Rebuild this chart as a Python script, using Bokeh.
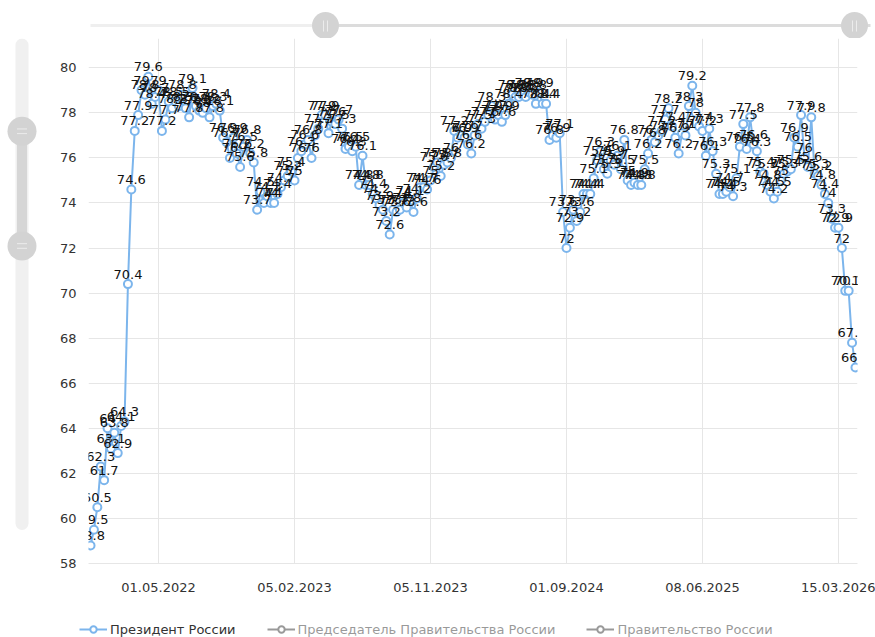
from bokeh.plotting import figure
from bokeh.models import ColumnDataSource, Range1d, FixedTicker, Legend, LegendItem
from bokeh.layouts import column, row
from bokeh.core.properties import value
from bokeh.embed import file_html
from bokeh.resources import INLINE

# ---------------- data (weekly poll points) ----------------
president = [
    58.8, 59.5, 60.5, 62.3, 61.7, 64.0, 63.1, 63.8, 62.9, 64.1, 64.3, 70.4, 74.6,
    77.2, 77.9, 79.0, 78.8, 79.6, 78.4, 78.7, 79.0,
    77.2, 77.7, 78.5, 78.2, 78.5, 78.3, 78.8, 78.2, 77.8, 79.1,
    78.3, 78.1, 78.0, 78.2, 77.8, 78.3, 78.4, 78.1, 76.9, 76.7,
    76.0, 76.9, 76.2, 75.6, 76.5, 76.8, 76.2, 75.8, 73.7, 74.5,
    74.0, 74.3, 74.0, 74.0, 74.4, 74.7, 75.0, 75.2, 75.4, 75.0,
    76.0, 76.3, 76.6, 76.8, 76.0, 77.0, 77.3, 77.9, 77.9, 77.1,
    77.6, 77.5, 77.7, 77.3, 76.4, 76.5, 76.3, 76.5, 74.8, 76.1,
    74.8, 74.8, 74.4, 74.2, 73.9, 73.7, 73.2, 72.6, 73.7, 73.6,
    73.7, 74.0, 73.8, 74.1, 73.6, 74.2, 74.7, 74.7, 74.6, 75.0,
    75.6, 75.8, 75.2, 75.7, 75.8, 76.0, 77.2, 76.9, 77.0, 76.9,
    76.6, 76.2, 77.0, 77.5, 77.3, 77.6, 77.9, 78.3, 77.7, 77.9,
    77.6, 77.9, 78.4, 78.8, 78.7, 78.7, 78.8, 78.7, 78.9, 78.8,
    78.4, 78.9, 78.4, 78.4, 76.8, 77.0, 76.9, 77.1, 73.6, 72.0,
    72.9, 73.7, 73.2, 73.6, 74.4, 74.4, 74.4, 75.1, 75.9, 76.3,
    75.5, 75.3, 75.9, 75.7, 76.1, 75.5, 76.8, 75.0, 74.8, 74.9,
    74.8, 74.8, 75.5, 76.2, 76.8, 76.7, 77.0, 77.2, 77.7, 78.2,
    77.4, 76.9, 76.2, 77.1, 77.0, 78.3, 79.2, 78.0, 77.4, 77.2,
    76.1, 77.3, 76.3, 75.3, 74.4, 74.4, 74.5, 74.7, 74.3, 75.1,
    76.5, 77.5, 76.4, 77.8, 76.6, 76.3, 75.4, 75.3, 74.8, 74.5,
    74.2, 74.5, 75.0, 75.3, 75.4, 75.5, 76.9, 76.5, 77.9, 76.0,
    75.6, 77.8, 75.3, 75.2, 74.8, 74.4, 74.0, 73.3, 72.9, 72.9,
    72.0, 70.1, 70.1, 67.8, 66.7,
]
premier = []      # hidden series (switched off in the legend)
government = []   # hidden series (switched off in the legend)

series_names = ["Президент России", "Председатель Правительства России", "Правительство России"]
tick_idx = [20, 60, 100, 140, 180, 220]
tick_labels = ["01.05.2022", "05.02.2023", "05.11.2023", "01.09.2024", "08.06.2025", "15.03.2026"]
y_ticks = list(range(58, 81, 2))

FONT = "DejaVu Sans"
BLUE = "#7cb5ec"
GRID = "#e6e6e6"
HIDDEN = "#333333"

# ---------------- main chart ----------------
n = len(president)
src = ColumnDataSource(dict(x=list(range(n)), y=president,
                            label=[f"{v:g}" for v in president]))

p = figure(width=827, height=563,
           x_range=Range1d(-0.6, n - 1 + 0.6), y_range=Range1d(58, 81.3),
           output_backend="svg", toolbar_location=None,
           min_border_left=40, min_border_right=18, min_border_top=0, min_border_bottom=38)
p.outline_line_color = None
p.background_fill_color = "white"

p.xaxis.ticker = FixedTicker(ticks=tick_idx)
p.xaxis.major_label_overrides = dict(zip(tick_idx, tick_labels))
p.xaxis.major_tick_line_color = None
p.xaxis.minor_tick_line_color = None
p.xaxis.axis_line_color = GRID
p.xaxis.major_label_standoff = 13
p.yaxis.ticker = FixedTicker(ticks=y_ticks)
p.yaxis.major_tick_line_color = None
p.yaxis.minor_tick_line_color = None
p.yaxis.axis_line_color = None
p.yaxis.major_label_standoff = 6
for ax in (p.xaxis[0], p.yaxis[0]):
    ax.major_label_text_font = FONT
    ax.major_label_text_font_size = "13px"
    ax.major_label_text_color = "#333333"
p.xgrid.ticker = FixedTicker(ticks=tick_idx)
p.xgrid.grid_line_color = GRID
p.ygrid.grid_line_color = GRID

p.line("x", "y", source=src, line_color=BLUE, line_width=2)
p.scatter("x", "y", source=src, marker="circle", size=8,
          fill_color="white", line_color=BLUE, line_width=2)
p.text("x", "y", text="label", source=src, text_font=value(FONT),
       text_font_size="13px", text_color="#111111", text_align="center",
       text_baseline="middle", y_offset=-10)

# the two switched-off series (no visible points)
for vals in (premier, government):
    s = ColumnDataSource(dict(x=list(range(len(vals))), y=vals))
    p.line("x", "y", source=s, line_color=HIDDEN, line_width=2, visible=False)

# ---------------- legend strip below the chart ----------------
# legend symbols drawn by proxy renderers whose data lie outside this strip's view
leg = figure(width=875, height=36, x_range=Range1d(-3, -2), y_range=Range1d(0, 1),
             x_axis_type=None, y_axis_type=None, output_backend="svg",
             toolbar_location=None, min_border=0)
leg.outline_line_color = None
items = []
styles = [(BLUE, True), (HIDDEN, False), (HIDDEN, False)]
for name, (col, vis) in zip(series_names, styles):
    lr = leg.line("x", "y", source=src, line_color=col, line_width=2, visible=vis)
    dr = leg.scatter("x", "y", source=src, marker="circle", size=8, fill_color="white",
                     line_color=col, line_width=2, visible=vis)
    items.append(LegendItem(label=name, renderers=[lr, dr]))

legend = Legend(items=items, location=(79, 0), orientation="horizontal",
                glyph_width=28, glyph_height=16, label_height=16, label_standoff=3,
                spacing=31, padding=0, margin=0, border_line_color=None,
                background_fill_alpha=0, label_text_font=FONT,
                label_text_font_size="13px", label_text_color="#333333",
                inactive_fill_color="white", inactive_fill_alpha=0.5,
                click_policy="hide")
leg.add_layout(legend)

# ---------------- navigator decorations (pixel space) ----------------
top = figure(width=875, height=38, x_range=Range1d(0, 875), y_range=Range1d(38, 0),
             x_axis_type=None, y_axis_type=None, output_backend="svg",
             toolbar_location=None, min_border=0)
top.outline_line_color = None
top.segment(x0=[90], y0=[25], x1=[325], y1=[25], line_color="#efefef", line_width=3)
top.segment(x0=[325], y0=[25], x1=[870], y1=[25], line_color="#dcdcdc", line_width=3)
top.scatter(x=[325, 854], y=[25, 25], size=27, marker="circle",
            fill_color="#d3d3d3", line_color=None)
top.segment(x0=[323, 327, 852, 856], y0=[20] * 4, x1=[323, 327, 852, 856], y1=[31] * 4,
            line_color="#ececec", line_width=1)

left = figure(width=48, height=563, x_range=Range1d(0, 48), y_range=Range1d(601, 38),
              x_axis_type=None, y_axis_type=None, output_backend="svg",
              toolbar_location=None, min_border=0)
left.outline_line_color = None
left.segment(x0=[21.5], y0=[45], x1=[21.5], y1=[558], line_color="#f0f0f0",
             line_width=13, line_cap="round")
left.segment(x0=[21.5], y0=[137], x1=[21.5], y1=[260], line_color="#d6d6d6", line_width=10)
left.scatter(x=[21.5, 21.5], y=[137.5, 260.5], size=29, marker="circle",
             fill_color="#d3d3d3", line_color=None)
left.segment(x0=[16.5] * 4, y0=[135, 140, 258, 263], x1=[26.5] * 4, y1=[135, 140, 258, 263],
             line_color="#ececec", line_width=1)

layout = column(top, row(left, p), leg)
open("out.html", "w").write(file_html(layout, INLINE))
